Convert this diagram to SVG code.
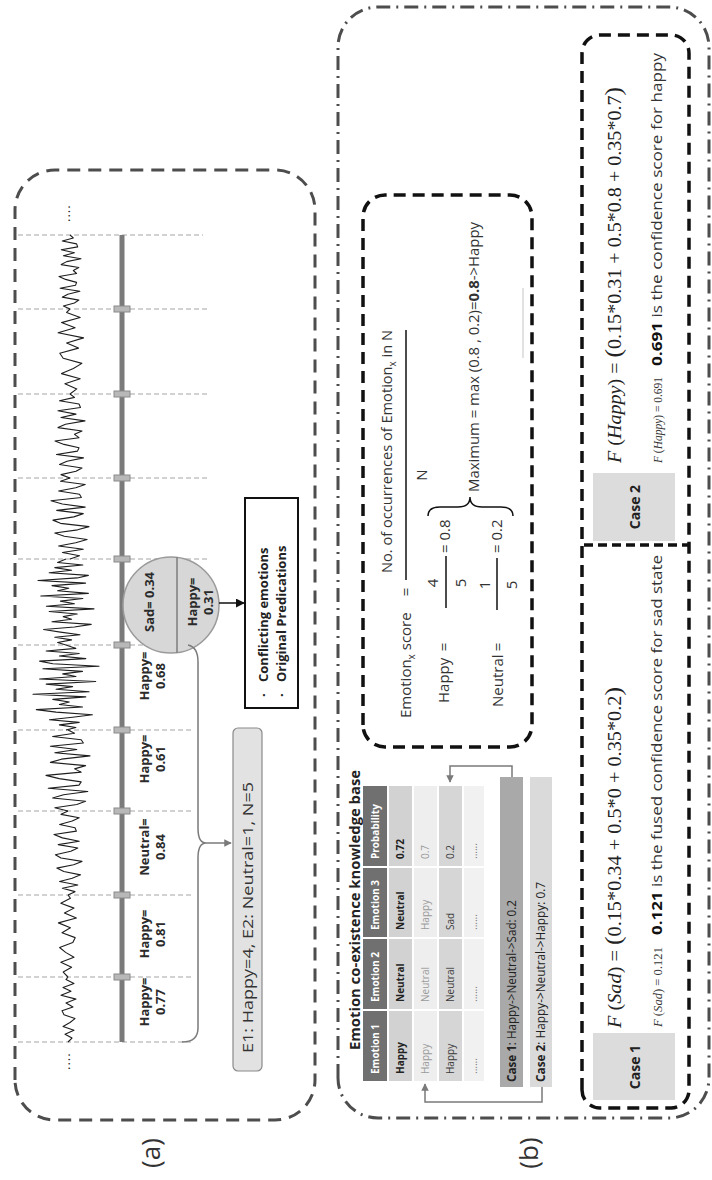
<svg xmlns="http://www.w3.org/2000/svg" width="712" height="1180" viewBox="0 0 712 1180">
<defs>
<style>
.sans{font-family:"Open Sans","Noto Sans","DejaVu Sans",sans-serif}
.serif{font-family:"Liberation Serif","Times New Roman",serif}
.dashA{fill:none;stroke:#4d4d4d;stroke-width:3;stroke-dasharray:13 8}
.dashB{fill:none;stroke:#4d4d4d;stroke-width:3;stroke-dasharray:14 6 2 6}
.dashK{fill:none;stroke:#111;stroke-width:3.5;stroke-dasharray:12 7}
.tickln{stroke:#c4c4c4;stroke-width:1.5;stroke-dasharray:5 3}
.tickm{fill:#b8b8b8;stroke:#8a8a8a;stroke-width:1}
.lbl{font-size:13px;font-weight:bold;fill:#2b2b2b;text-anchor:middle}
.wave{fill:none;stroke:#1e1e1e;stroke-width:1.1;stroke-linejoin:round}
.conn{fill:none;stroke:#7a7a7a;stroke-width:1.5}
.th{font-size:10px;font-weight:bold;fill:#fff}
.td{font-size:10px}
.eq{font-size:15px;fill:#333}
</style>
<marker id="ahK" viewBox="0 0 10 10" refX="9" refY="5" markerWidth="6" markerHeight="6" orient="auto"><path d="M0,0 L10,5 L0,10 z" fill="#111"/></marker>
<marker id="ahG" viewBox="0 0 10 10" refX="9" refY="5" markerWidth="5" markerHeight="5" orient="auto"><path d="M0,0 L10,5 L0,10 z" fill="#7a7a7a"/></marker>
<path id="wA" class="wave" vector-effect="non-scaling-stroke" d="M0 0 L4 5 8 -4 12 7 16 -6 20 3 24 9 28 -3 32 -8 36 4 40 10 44 -5 48 -9 52 2 56 7 60 -7 64 8 68 -4 72 -10 76 6 80 5 84 -6 88 3 92 8 96 -5 100 0"/>
<path id="wB" class="wave" vector-effect="non-scaling-stroke" d="M0 0 L4 -6 8 4 12 8 16 -7 20 -2 24 9 28 -9 32 5 36 6 40 -4 44 -10 48 6 52 3 56 8 60 -8 64 -3 68 10 72 -6 76 4 80 -8 84 7 88 6 92 -7 96 3 100 0"/>
<path id="wC" class="wave" vector-effect="non-scaling-stroke" d="M0 0 L3 3 6 -2 9 4 12 -5 15 2 18 8 21 -3 24 -9 27 5 30 -2 33 1 36 -4 39 6 42 -10 45 7 48 -3 51 2 54 -6 57 9 60 -8 63 3 66 -1 69 5 72 -7 75 10 78 -4 81 -8 84 6 87 -2 90 4 93 -6 96 3 100 0"/>
<path id="wD" class="wave" vector-effect="non-scaling-stroke" d="M0 0 L6 4 12 -3 18 6 24 -5 30 2 36 7 42 -4 48 -6 54 5 60 -2 66 8 72 -7 78 3 84 -5 90 6 96 -2 100 0"/>
</defs>
<rect width="712" height="1180" fill="#fff"/>
<g transform="translate(0,1180) rotate(-90)">

<!-- ============ PANEL A ============ -->
<g id="panel-a">
  <rect class="dashA" x="60" y="15" width="950" height="300" rx="40"/>
  <text class="sans" x="27" y="160" font-size="26" fill="#333" text-anchor="middle">(a)</text>

  <g id="tick-lines">
    <line class="tickln" x1="138" y1="18" x2="138" y2="193"/>
    <line class="tickln" x1="203" y1="18" x2="203" y2="193"/>
    <line class="tickln" x1="285" y1="18" x2="285" y2="193"/>
    <line class="tickln" x1="369" y1="18" x2="369" y2="193"/>
    <line class="tickln" x1="450" y1="18" x2="450" y2="193"/>
    <line class="tickln" x1="535" y1="18" x2="535" y2="193"/>
    <line class="tickln" x1="621" y1="18" x2="621" y2="210"/>
    <line class="tickln" x1="702" y1="18" x2="702" y2="210"/>
    <line class="tickln" x1="786" y1="18" x2="786" y2="210"/>
    <line class="tickln" x1="871" y1="18" x2="871" y2="210"/>
    <line class="tickln" x1="945" y1="18" x2="945" y2="203"/>
  </g>

  <g id="waveform">
    <use href="#wD" transform="translate(138,68) scale(0.65,1.0)"/>
    <use href="#wD" transform="translate(203,68) scale(0.82,-1.2)"/>
    <use href="#wA" transform="translate(285,68) scale(0.84,1.4)"/>
    <use href="#wB" transform="translate(369,68) scale(0.81,2.2)"/>
    <use href="#wC" transform="translate(450,66) scale(0.85,3.3)"/>
    <use href="#wC" transform="translate(535,66) scale(0.86,-2.8)"/>
    <use href="#wA" transform="translate(621,70) scale(0.81,1.9)"/>
    <use href="#wB" transform="translate(702,70) scale(0.84,1.5)"/>
    <use href="#wD" transform="translate(786,70) scale(0.85,1.7)"/>
    <use href="#wB" transform="translate(871,70) scale(0.74,1.1)"/>
  </g>
  <text class="sans" x="958" y="70" font-size="13" fill="#222" letter-spacing="1">....</text>
  <text class="sans" x="110" y="70" font-size="13" fill="#222" letter-spacing="1">....</text>

  <g id="timeline">
    <line x1="138" y1="122" x2="945" y2="122" stroke="#7a7a7a" stroke-width="5"/>
    <rect class="tickm" x="200" y="114" width="6" height="16"/>
    <rect class="tickm" x="282" y="114" width="6" height="16"/>
    <rect class="tickm" x="366" y="114" width="6" height="16"/>
    <rect class="tickm" x="447" y="114" width="6" height="16"/>
    <rect class="tickm" x="532" y="114" width="6" height="16"/>
    <rect class="tickm" x="618" y="114" width="6" height="16"/>
    <rect class="tickm" x="699" y="114" width="6" height="16"/>
    <rect class="tickm" x="783" y="114" width="6" height="16"/>
    <rect class="tickm" x="868" y="114" width="6" height="16"/>
  </g>

  <g id="seg-labels" class="sans">
    <text class="lbl" x="178" y="149">Happy=</text><text class="lbl" x="178" y="165">0.77</text>
    <text class="lbl" x="246" y="149">Happy=</text><text class="lbl" x="246" y="165">0.81</text>
    <text class="lbl" x="333" y="149">Neutral=</text><text class="lbl" x="333" y="165">0.84</text>
    <text class="lbl" x="421" y="149">Happy=</text><text class="lbl" x="421" y="165">0.61</text>
    <text class="lbl" x="504" y="149">Happy=</text><text class="lbl" x="504" y="165">0.68</text>
  </g>

  <g id="conflict-circle" class="sans">
    <circle cx="575" cy="171" r="48" fill="#d7d7d7" stroke="#9a9a9a" stroke-width="1.5"/>
    <line x1="527.4" y1="177" x2="622.6" y2="177" stroke="#666" stroke-width="1.2"/>
    <text class="lbl" x="578" y="154">Sad= 0.34</text>
    <text class="lbl" x="578" y="197">Happy=</text>
    <text class="lbl" x="578" y="213">0.31</text>
  </g>

  <g id="conflict-box" class="sans">
    <rect x="472" y="245" width="210" height="53" fill="#fff" stroke="#111" stroke-width="2"/>
    <text x="483" y="268" font-size="13" font-weight="bold" fill="#222">·</text>
    <text x="483" y="286" font-size="13" font-weight="bold" fill="#222">·</text>
    <text x="498" y="268" font-size="13" font-weight="bold" fill="#222">Conflicting emotions</text>
    <text x="498" y="286" font-size="13" font-weight="bold" fill="#222">Original Predications</text>
  </g>

  <g id="count-box" class="sans">
    <rect x="109" y="233" width="343" height="29" rx="5" fill="#e2e2e2" stroke="#8a8a8a" stroke-width="1.2"/>
    <text x="127" y="253" font-size="15" fill="#333" textLength="271" lengthAdjust="spacingAndGlyphs">E1: Happy=4, E2: Neutral=1, N=5</text>
  </g>

  <g id="connectors-a">
    <line x1="577" y1="219" x2="577" y2="244" stroke="#111" stroke-width="1.5" marker-end="url(#ahK)"/>
    <path class="conn" d="M138,182 Q138,198 152,198 L322,198 Q337,198 337,206 Q337,198 352,198 L518,198 Q533,198 535,188"/>
    <line class="conn" x1="337" y1="206" x2="337" y2="231" marker-end="url(#ahG)"/>
  </g>
</g>

<!-- ============ PANEL B ============ -->
<g id="panel-b">
  <rect class="dashB" x="62" y="338" width="1111" height="371" rx="40"/>
  <text class="sans" x="27" y="538" font-size="26" fill="#333" text-anchor="middle">(b)</text>

  <g id="knowledge-table" class="sans">
    <text x="130" y="360" font-size="13.5" font-weight="bold" fill="#222" textLength="280" lengthAdjust="spacingAndGlyphs">Emotion co-existence knowledge base</text>
    <rect x="99" y="363" width="70" height="24" fill="#707070"/>
    <rect x="171" y="363" width="70" height="24" fill="#707070"/>
    <rect x="243" y="363" width="69" height="24" fill="#707070"/>
    <rect x="314" y="363" width="80" height="24" fill="#707070"/>
    <rect x="99" y="389" width="70" height="23" fill="#d2d2d2"/>
    <rect x="171" y="389" width="70" height="23" fill="#d2d2d2"/>
    <rect x="243" y="389" width="69" height="23" fill="#d2d2d2"/>
    <rect x="314" y="389" width="80" height="23" fill="#d2d2d2"/>
    <rect x="99" y="414" width="70" height="23" fill="#eeeeee"/>
    <rect x="171" y="414" width="70" height="23" fill="#eeeeee"/>
    <rect x="243" y="414" width="69" height="23" fill="#eeeeee"/>
    <rect x="314" y="414" width="80" height="23" fill="#eeeeee"/>
    <rect x="99" y="439" width="70" height="23" fill="#d6d6d6"/>
    <rect x="171" y="439" width="70" height="23" fill="#d6d6d6"/>
    <rect x="243" y="439" width="69" height="23" fill="#d6d6d6"/>
    <rect x="314" y="439" width="80" height="23" fill="#d6d6d6"/>
    <rect x="99" y="464" width="70" height="20" fill="#f1f1f1"/>
    <rect x="171" y="464" width="70" height="20" fill="#f1f1f1"/>
    <rect x="243" y="464" width="69" height="20" fill="#f1f1f1"/>
    <rect x="314" y="464" width="80" height="20" fill="#f1f1f1"/>
    <text class="th" x="106" y="379">Emotion 1</text>
    <text class="th" x="178" y="379">Emotion 2</text>
    <text class="th" x="250" y="379">Emotion 3</text>
    <text class="th" x="321" y="379">Probability</text>
    <g font-weight="bold" fill="#222">
      <text class="td" x="106" y="404">Happy</text>
      <text class="td" x="178" y="404">Neutral</text>
      <text class="td" x="250" y="404">Neutral</text>
      <text class="td" x="321" y="404">0.72</text>
    </g>
    <g fill="#9a9a9a">
      <text class="td" x="106" y="429">Happy</text>
      <text class="td" x="178" y="429">Neutral</text>
      <text class="td" x="250" y="429">Happy</text>
      <text class="td" x="321" y="429">0.7</text>
    </g>
    <g fill="#3a3a3a">
      <text class="td" x="106" y="454">Happy</text>
      <text class="td" x="178" y="454">Neutral</text>
      <text class="td" x="250" y="454">Sad</text>
      <text class="td" x="321" y="454">0.2</text>
    </g>
    <g fill="#777">
      <text class="td" x="106" y="477">......</text>
      <text class="td" x="178" y="477">......</text>
      <text class="td" x="250" y="477">......</text>
      <text class="td" x="321" y="477">......</text>
    </g>
  </g>

  <g id="case1-bar" class="sans">
    <rect x="93" y="500" width="310" height="23" fill="#a9a9a9"/>
    <text x="98" y="516" font-size="12" fill="#222" textLength="182" lengthAdjust="spacingAndGlyphs"><tspan font-weight="bold">Case 1</tspan>: Happy-&gt;Neutral-&gt;Sad: 0.2</text>
  </g>
  <g id="case2-bar" class="sans">
    <rect x="93" y="530" width="310" height="22" fill="#dadada"/>
    <text x="98" y="545" font-size="12" fill="#222" textLength="200" lengthAdjust="spacingAndGlyphs"><tspan font-weight="bold">Case 2</tspan>: Happy-&gt;Neutral-&gt;Happy: 0.7</text>
  </g>

  <g id="connectors-b">
    <path class="conn" d="M403,512 L414,512 L414,450 L398,450" marker-end="url(#ahG)"/>
    <path class="conn" d="M93,542 L78,542 L78,425 L96,425" marker-end="url(#ahG)"/>
  </g>

  <g id="score-box" class="sans">
    <rect class="dashK" x="433" y="363" width="552" height="169" rx="22"/>
    <text class="eq" x="462" y="411">Emotion<tspan font-size="10" dy="4">x</tspan><tspan dy="-4"> score</tspan></text>
    <text class="eq" x="588" y="411" text-anchor="middle">=</text>
    <text class="eq" x="607" y="392" textLength="243" lengthAdjust="spacingAndGlyphs">No. of occurrences of Emotion<tspan font-size="10" dy="4">x</tspan><tspan dy="-4"> in N</tspan></text>
    <line x1="600" y1="406" x2="850" y2="406" stroke="#111" stroke-width="1.5"/>
    <text class="eq" x="705" y="427" text-anchor="middle">N</text>

    <text class="eq" x="477" y="449">Happy</text>
    <text class="eq" x="533" y="449" text-anchor="middle">=</text>
    <text class="eq" x="597" y="438" text-anchor="middle">4</text>
    <line x1="572" y1="446" x2="624" y2="446" stroke="#111" stroke-width="1.5"/>
    <text class="eq" x="597" y="466" text-anchor="middle">5</text>
    <text class="eq" x="627" y="450">= 0.8</text>

    <text class="eq" x="473" y="503">Neutral</text>
    <text class="eq" x="533" y="503" text-anchor="middle">=</text>
    <text class="eq" x="595" y="490" text-anchor="middle">1</text>
    <line x1="570" y1="497" x2="622" y2="497" stroke="#111" stroke-width="1.5"/>
    <text class="eq" x="595" y="517" text-anchor="middle">5</text>
    <text class="eq" x="627" y="502">= 0.2</text>

    <path d="M664,428 Q673,428 673,440 L673,458 Q673,470 683,470 Q673,470 673,482 L673,501 Q673,513 664,513" fill="none" stroke="#111" stroke-width="1.5"/>
    <text class="eq" x="688" y="479" textLength="270" lengthAdjust="spacingAndGlyphs">Maximum = max (0.8 , 0.2)=<tspan font-weight="bold">0.8</tspan>-&gt;Happy</text>
    <line x1="822" y1="523" x2="892" y2="523" stroke="#cfcfcf" stroke-width="1.2"/>
  </g>

  <g id="fusion-box">
    <rect class="dashK" x="72" y="582" width="1073" height="107" rx="18"/>
    <line x1="635" y1="584" x2="635" y2="688" stroke="#111" stroke-width="3.5" stroke-dasharray="9 5"/>

    <g id="case1" class="sans">
      <rect x="80" y="593" width="67" height="82" fill="#dcdcdc"/>
      <text x="113" y="640" font-size="14" font-weight="bold" fill="#222" text-anchor="middle">Case 1</text>
    </g>
    <g id="case2" class="sans">
      <rect x="639" y="593" width="68" height="82" fill="#dcdcdc"/>
      <text x="673" y="640" font-size="14" font-weight="bold" fill="#222" text-anchor="middle">Case 2</text>
    </g>

    <text class="serif" x="152" y="621" font-size="19" fill="#222" textLength="341" lengthAdjust="spacingAndGlyphs"><tspan font-style="italic">F</tspan> (<tspan font-style="italic">Sad</tspan>) = <tspan font-size="24">(</tspan>0.15*0.34 + 0.5*0 + 0.35*0.2<tspan font-size="24">)</tspan></text>
    <text class="serif" x="153" y="662" font-size="13" fill="#333" textLength="80" lengthAdjust="spacingAndGlyphs"><tspan font-style="italic">F</tspan> (<tspan font-style="italic">Sad</tspan>) = 0.121</text>
    <text class="sans" x="245" y="662" font-size="14.5" fill="#333" textLength="380" lengthAdjust="spacingAndGlyphs"><tspan font-weight="bold" fill="#111">0.121</tspan> is the fused confidence score for sad state</text>

    <text class="serif" x="717" y="621" font-size="19" fill="#222" textLength="376" lengthAdjust="spacingAndGlyphs"><tspan font-style="italic">F</tspan> (<tspan font-style="italic">Happy</tspan>) = <tspan font-size="24">(</tspan>0.15*0.31 + 0.5*0.8 + 0.35*0.7<tspan font-size="24">)</tspan></text>
    <text class="serif" x="717" y="662" font-size="13" fill="#333" textLength="86" lengthAdjust="spacingAndGlyphs"><tspan font-style="italic">F</tspan> (<tspan font-style="italic">Happy</tspan>) = 0.691</text>
    <text class="sans" x="814" y="662" font-size="14.5" fill="#333" textLength="313" lengthAdjust="spacingAndGlyphs"><tspan font-weight="bold" fill="#111">0.691</tspan> is the confidence score for happy</text>
  </g>
</g>
</g>
</svg>
